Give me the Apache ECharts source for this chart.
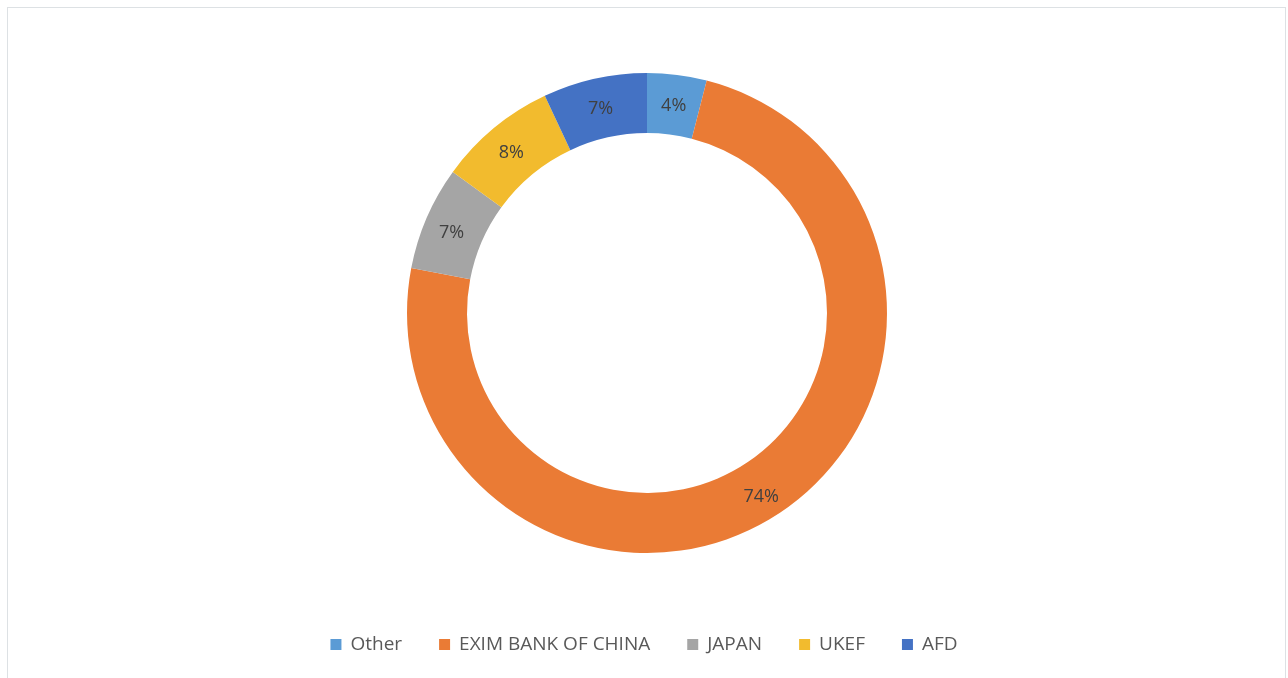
<!DOCTYPE html>
<html>
<head>
<meta charset="utf-8">
<script src="https://cdn.jsdelivr.net/npm/echarts@6/dist/echarts.min.js"></script>
<style>
html,body{margin:0;padding:0;background:#fff;}
#frame{position:absolute;left:7px;top:7px;width:1279px;height:680px;border:1.5px solid #dde1e4;box-sizing:border-box;}
#chart{position:absolute;left:0;top:0;width:1288px;height:678px;}
</style>
</head>
<body>
<div id="frame"></div>
<div id="chart"></div>
<script>
const categories = ['Other', 'EXIM BANK OF CHINA', 'JAPAN', 'UKEF', 'AFD'];
const shares = [4, 74, 7, 8, 7];
const colors = ['#5b9bd5', '#ea7b35', '#a5a5a5', '#f2bb2e', '#4472c4'];

const chart = echarts.init(document.getElementById('chart'));
chart.setOption({
  animation: false,
  color: colors,
  legend: {
    top: 630,
    left: 'center',
    itemWidth: 11,
    itemHeight: 11,
    itemGap: 37,
    icon: 'rect',
    textStyle: { fontFamily: 'Open Sans, Liberation Sans, sans-serif', fontSize: 19, color: '#595959', padding: [0, 0, 0, 4] },
    data: categories
  },
  series: [{
    type: 'pie',
    center: [647, 313],
    radius: [180, 240],
    startAngle: 90,
    clockwise: true,
    avoidLabelOverlap: false,
    label: {
      show: true,
      position: 'inside',
      formatter: '{c}%',
      fontFamily: 'Open Sans, Liberation Sans, sans-serif',
      fontSize: 18,
      color: '#404040',
      offset: [0, 4]
    },
    labelLine: { show: false },
    itemStyle: { borderWidth: 0 },
    emphasis: { disabled: true },
    data: categories.map((n, i) => ({ name: n, value: shares[i] }))
  }]
});
</script>
</body>
</html>
